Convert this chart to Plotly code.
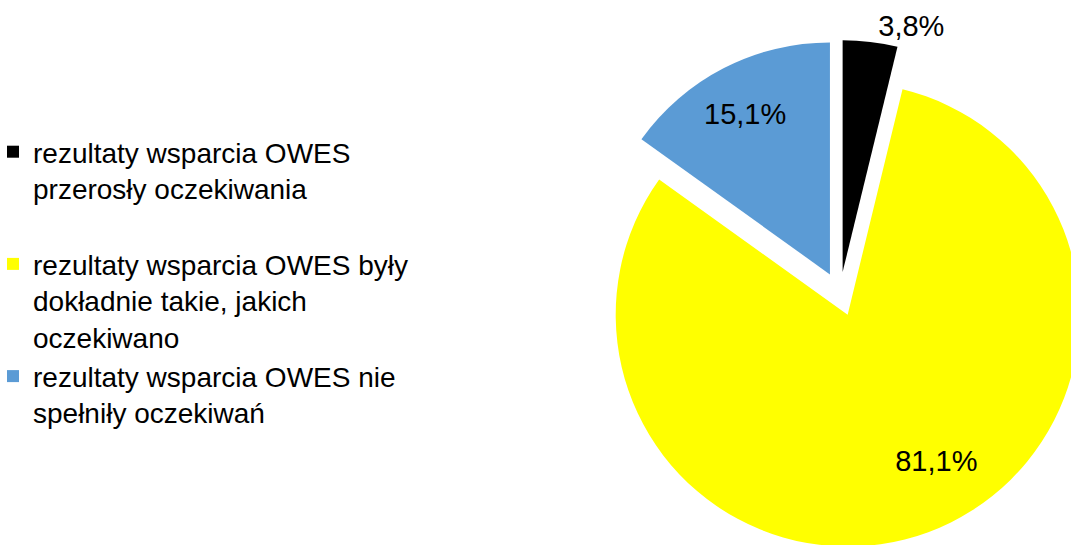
import plotly.graph_objects as go

labels = [
    "rezultaty wsparcia OWES<br>przerosły oczekiwania<br> ",
    "rezultaty wsparcia OWES były<br>dokładnie takie, jakich<br>oczekiwano",
    "rezultaty wsparcia OWES nie<br>spełniły oczekiwań",
]
values = [3.8, 81.1, 15.1]
colors = ["#000000", "#FFFF00", "#5B9BD5"]
text_positions = ["outside", "inside", "inside"]
NB = "\u00a0"
text_templates = [
    "%{percent}",
    NB + "<br>" + NB + "<br>" + NB * 12 + "%{percent}",
    "%{percent}" + NB * 3 + "<br>" + NB,
]

W, H = 1094, 548
BOX = 508
FONT = "Liberation Sans, Arial, sans-serif"

fig = go.Figure(
    go.Pie(
        labels=labels,
        values=values,
        sort=False,
        direction="clockwise",
        rotation=0,
        pull=0.095,
        marker=dict(colors=colors, line=dict(width=0)),
        texttemplate=text_templates,
        textposition=text_positions,
        insidetextorientation="horizontal",
        textfont=dict(family=FONT, size=29, color="#000000"),
        domain=dict(x=[(W - BOX) / W, 1.0], y=[0.0, BOX / H]),
        hoverinfo="label+percent",
    )
)

fig.update_layout(
    width=W,
    height=H,
    margin=dict(l=0, r=0, t=0, b=0, autoexpand=False),
    paper_bgcolor="#FFFFFF",
    plot_bgcolor="#FFFFFF",
    separators=", ",
    font=dict(family=FONT, color="#000000"),
    showlegend=True,
    legend=dict(
        x=-7 / W,
        y=1 - 127 / H,
        xanchor="left",
        yanchor="top",
        valign="top",
        font=dict(family=FONT, size=28, color="#000000"),
        bgcolor="rgba(0,0,0,0)",
        traceorder="normal",
    ),
)

fig.write_html("out.html")
